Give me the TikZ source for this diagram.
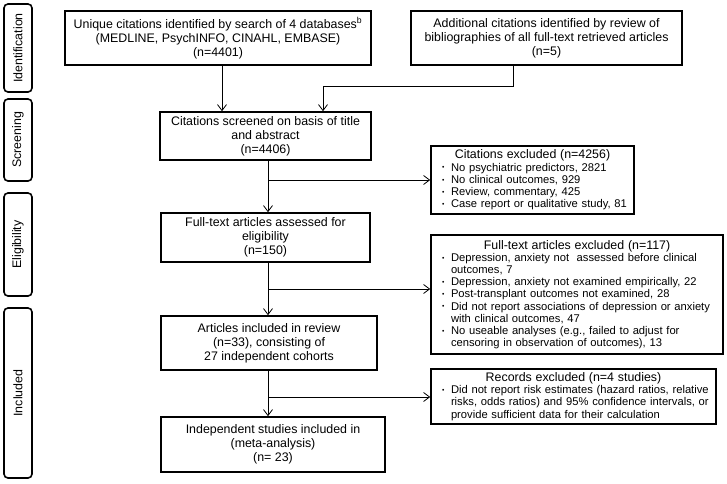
\documentclass[tikz,border=0pt]{standalone}
\usepackage{fontspec}
\setmainfont{Liberation Sans}
\usepackage{graphicx}
\usetikzlibrary{arrows.meta}
\newcommand\bul[1]{\par\hangindent=9pt\hangafter=1\noindent\makebox[9pt][l]{\raisebox{0.2ex}{\scalebox{0.6}{\textbullet}}}#1}
\newcommand\extitle[1]{{\leftskip=0pt\noindent\makebox[\linewidth][c]{\fontsize{12.4}{14}\selectfont #1}\par}\leftskip=10pt\relax}
\tikzset{
  mainbox/.style={draw, line width=1.6pt, align=center, inner sep=0pt, font=\fontsize{12.4}{14}\selectfont},
  exbox/.style={draw, line width=1.6pt, inner sep=0pt, font=\fontsize{11.2}{12.2}\selectfont},
  sidebox/.style={draw, line width=1.6pt, rounded corners=4pt, inner sep=0pt, minimum height=28pt, rotate=90, font=\fontsize{12.4}{14}\selectfont},
  conn/.style={line width=0.8pt, -{Straight Barb[length=6pt,width=9pt]}}
}
\begin{document}
\begin{tikzpicture}[x=1pt,y=-1pt]
\useasboundingbox (0,0) rectangle (727,483);
% phase labels
\node[sidebox, minimum width=88pt] (sid) at (18,48) {Identification};
\node[sidebox, minimum width=82pt] (sscr) at (18,140) {Screening};
\node[sidebox, minimum width=103pt] (self) at (18,244.5) {Eligibility};
\node[sidebox, minimum width=170pt] (sinc) at (18,393) {Included};
% main boxes
\node[mainbox, minimum width=306pt, minimum height=54pt] (id1) at (218,38)
  {Unique citations identified by search of 4 databases\textsuperscript{b}\\(MEDLINE, PsychINFO, CINAHL, EMBASE)\\(n=4401)};
\node[mainbox, minimum width=271pt, minimum height=54pt] (id2) at (546.5,38)
  {Additional citations identified by review of\\bibliographies of all full-text retrieved articles\\(n=5)};
\node[mainbox, minimum width=211pt, minimum height=48pt] (scr) at (265.5,136)
  {Citations screened on basis of title\\and abstract\\(n=4406)};
\node[mainbox, minimum width=209pt, minimum height=49pt] (ft) at (265.5,237.5)
  {Full-text articles assessed for\\eligibility\\(n=150)};
\node[mainbox, minimum width=216pt, minimum height=54pt] (art) at (269,343)
  {Articles included in review\\(n=33), consisting of\\27 independent cohorts};
\node[mainbox, minimum width=224pt, minimum height=55pt] (ind) at (273,444.5)
  {Independent studies included in\\(meta-analysis)\\(n= 23)};
% exclusion boxes
\node[exbox, minimum width=203pt, minimum height=68pt, text width=201pt] (citex) at (532.5,180)
  {\raggedright\extitle{Citations excluded (n=4256)}%
   \bul{No psychiatric predictors, 2821}%
   \bul{No clinical outcomes, 929}%
   \bul{Review, commentary, 425}%
   \bul{Case report or qualitative study, 81}\par};
\node[exbox, minimum width=292pt, minimum height=119pt, text width=290pt] (ftex) at (577,294.5)
  {\raggedright\extitle{Full-text articles excluded (n=117)}%
   \bul{Depression, anxiety not\ \ assessed before clinical\newline outcomes, 7}%
   \bul{Depression, anxiety not examined empirically, 22}%
   \bul{Post-transplant outcomes not examined, 28}%
   \bul{Did not report associations of depression or anxiety\newline with clinical outcomes, 47}%
   \bul{No useable analyses (e.g., failed to adjust for\newline censoring in observation of outcomes), 13}\par};
\node[exbox, minimum width=285pt, minimum height=55pt, text width=283pt] (recex) at (573.5,396.5)
  {\raggedright\extitle{Records excluded (n=4 studies)}%
   \bul{Did not report risk estimates (hazard ratios, relative\newline risks, odds ratios) and 95\% confidence intervals, or\newline provide sufficient data for their calculation}\par};
% helper coordinates
\coordinate (c1) at (222,0);
\coordinate (c2) at (323,0);
\coordinate (c3) at (513,0);
\coordinate (j) at (0,86);
\coordinate (mx) at (268,0);
\coordinate (b1) at (0,180);
\coordinate (b2) at (0,289);
\coordinate (b3) at (0,397);
% connectors
\draw[conn] (id1.south -| c1) -- (scr.north -| c1);
\draw[conn] (id2.south -| c3) |- (c2 |- j) -- (scr.north -| c2);
\draw[conn] (scr.south -| mx) -- (ft.north -| mx);
\draw[conn] (mx |- b1) -- (citex.west |- b1);
\draw[conn] (ft.south -| mx) -- (art.north -| mx);
\draw[conn] (mx |- b2) -- (ftex.west |- b2);
\draw[conn] (art.south -| mx) -- (ind.north -| mx);
\draw[conn] (mx |- b3) -- (recex.west |- b3);
\end{tikzpicture}
\end{document}
